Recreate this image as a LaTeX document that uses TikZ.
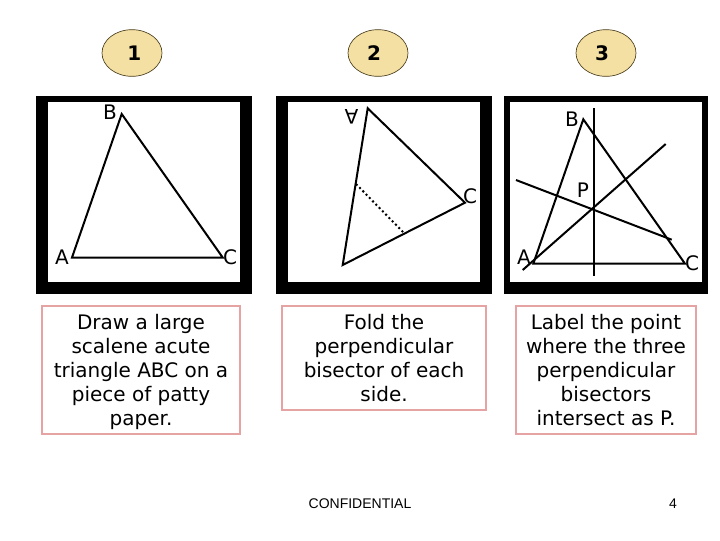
\documentclass[tikz,border=0pt]{standalone}
\usepackage{fontspec}
\usepackage{xcolor}
\usetikzlibrary{shapes.geometric}
\setmainfont{DejaVu Sans}
\newfontfamily\footfont{Liberation Sans}
\definecolor{stepfill}{HTML}{F5E0A3}
\definecolor{stepline}{HTML}{4A4020}
\definecolor{boxline}{HTML}{E5A3A3}
\tikzset{
    stepnum/.style={ellipse, draw=stepline, fill=stepfill, line width=0.5pt, minimum width=45pt, minimum height=35pt, inner sep=0pt, font=\fontsize{15}{18}\selectfont\bfseries},
    infobox/.style={rectangle, draw=boxline, line width=1pt, inner sep=0pt, align=center, font=\fontsize{15}{18}\selectfont},
    vertex/.style={inner sep=0pt, font=\fontsize{15}{18}\selectfont},
    edge/.style={line width=1.5pt, line join=miter},
    foot/.style={inner sep=0pt, font=\footfont\fontsize{10.5}{12}\selectfont}
}

\begin{document}
\begin{tikzpicture}[x=0.75pt, y=-0.75pt]
    \useasboundingbox (0, 0) rectangle (720, 540);
    \fill[white] (0, 0) rectangle (720, 540);
    % step numbers
    \node[stepnum] (step1) at (132, 53) {\kern3.5pt 1};
    \node[stepnum] (step2) at (378, 53) {\kern-6pt 2};
    \node[stepnum] (step3) at (606, 53) {\kern-6pt 3};
    % paper frames
    \fill[black] (35.5, 96) rectangle (252, 294);
    \fill[white] (48, 102) rectangle (240, 282);
    \fill[black] (275.5, 96) rectangle (492, 294);
    \fill[white] (288, 102) rectangle (480, 282);
    \fill[black] (503.5, 96) rectangle (708, 294);
    \fill[white] (510, 102) rectangle (702, 282);
    % first triangle
    \coordinate (a1) at (72, 257.5);
    \coordinate (b1) at (121.7, 114);
    \coordinate (c1) at (222.7, 257.5);
    \draw[edge] (a1) -- (b1) -- (c1) -- cycle;
    \node[vertex] (la1) at (62, 257) {A};
    \node[vertex] (lb1) at (110, 112) {B};
    \node[vertex] (lc1) at (230, 257) {C};
    % second triangle, folded
    \coordinate (a2) at (367.7, 108.3);
    \coordinate (b2) at (342.7, 265);
    \coordinate (c2) at (465, 202.7);
    \coordinate (f1) at (356, 184);
    \coordinate (f2) at (404.3, 233.3);
    \draw[edge] (a2) -- (b2) -- (c2) -- cycle;
    \draw[line width=1.5pt, dotted] (f1) -- (f2);
    \node[vertex, rotate=180] (la2) at (351.5, 117) {A};
    \node[vertex] (lc2) at (470, 196) {C};
    % third triangle with bisectors
    \coordinate (a3) at (533.3, 263.7);
    \coordinate (b3) at (583.3, 119.3);
    \coordinate (c3) at (685, 263.7);
    \coordinate (v1) at (594, 108);
    \coordinate (v2) at (594, 275.7);
    \coordinate (d1) at (522.7, 270);
    \coordinate (d2) at (665.7, 144);
    \coordinate (s1) at (516, 180);
    \coordinate (s2) at (671.7, 239.7);
    \draw[edge] (a3) -- (b3) -- (c3) -- cycle;
    \draw[edge] (v1) -- (v2);
    \draw[edge] (d1) -- (d2);
    \draw[edge] (s1) -- (s2);
    \node[vertex] (la3) at (524, 257) {A};
    \node[vertex] (lb3) at (572, 119) {B};
    \node[vertex] (lc3) at (692, 263) {C};
    \node[vertex] (lp3) at (583, 190.5) {P};
    % captions
    \node[infobox, minimum width=148.5pt, minimum height=96pt] (text1) at (141, 370) {Draw a large\\scalene acute\\triangle ABC on a\\piece of patty\\\smash{paper.}};
    \node[infobox, minimum width=153pt, minimum height=78pt] (text2) at (384, 358) {Fold the\\perpendicular\\bisector of each\\side.};
    \node[infobox, minimum width=135pt, minimum height=96pt] (text3) at (606, 370) {Label the point\\where the three\\perpendicular\\bisectors\\intersect as P.};
    % footer
    \node[foot] (conf) at (360, 504) {CONFIDENTIAL};
    \node[foot] (page) at (673, 504) {4};
\end{tikzpicture}
\end{document}
